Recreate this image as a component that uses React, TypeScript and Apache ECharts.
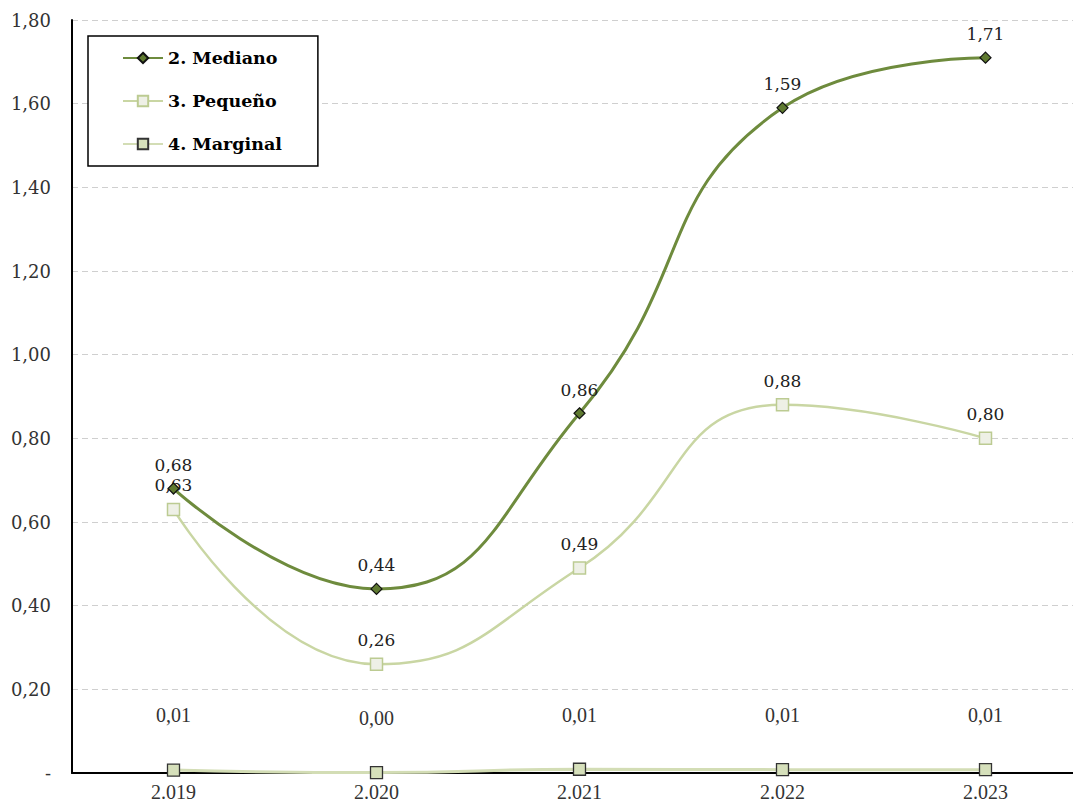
import React, { useEffect, useRef } from "react";
import * as echarts from "echarts";

const categories = ["2.019", "2.020", "2.021", "2.022", "2.023"];
const mediano = [0.68, 0.44, 0.86, 1.59, 1.71];
const pequeno = [0.63, 0.26, 0.49, 0.88, 0.8];
const marginal = [0.007, 0.001, 0.009, 0.008, 0.008];
const seriesNames = ["2. Mediano", "3. Pequeño", "4. Marginal"];

const fmt = (v: number) => v.toFixed(2).replace(".", ",");

export default function App() {
  const ref = useRef<HTMLDivElement>(null);
  useEffect(() => {
    if (!ref.current) return;
    const chart = echarts.init(ref.current, null, { renderer: "svg" });
    const serifWide = "DejaVu Serif";
    const serifNarrow = "Liberation Serif";
    chart.setOption({
      animation: false,
      backgroundColor: "#ffffff",
      grid: { left: 72, right: 0, top: 20, bottom: 31, containLabel: false },
      legend: {
        orient: "vertical",
        left: 88,
        top: 36,
        padding: [13, 36, 13, 34],
        itemGap: 25,
        itemWidth: 40,
        itemHeight: 13,
        borderColor: "#000",
        borderWidth: 1.5,
        backgroundColor: "#fff",
        textStyle: { fontFamily: serifWide, fontWeight: "bold", fontSize: 17.5, color: "#000" },
        data: seriesNames,
      },
      xAxis: {
        type: "category",
        data: categories,
        boundaryGap: true,
        axisLine: { show: true, lineStyle: { color: "#000", width: 2 } },
        axisTick: { show: false },
        axisLabel: { fontFamily: serifNarrow, fontSize: 20, color: "#333", margin: 9 },
      },
      yAxis: {
        type: "value",
        min: 0,
        max: 1.8,
        interval: 0.2,
        axisLine: { show: true, lineStyle: { color: "#000", width: 2 } },
        axisTick: { show: false },
        splitLine: { show: true, lineStyle: { color: "#cfcfcf", type: [6, 4], width: 1 } },
        axisLabel: {
          fontFamily: serifWide,
          fontSize: 18,
          color: "#333",
          margin: 21,
          formatter: (v: number) => (v === 0 ? "-" : fmt(v)),
        },
      },
      series: [
        {
          name: seriesNames[0],
          type: "line",
          data: mediano,
          smooth: 0.5,
          symbol: "diamond",
          symbolSize: 11,
          lineStyle: { color: "#6e8b3d", width: 3 },
          itemStyle: { color: "#5f7a30", borderColor: "#111", borderWidth: 1.2 },
          label: {
            show: true,
            position: "top",
            distance: 9,
            fontFamily: serifWide,
            fontSize: 17,
            color: "#222",
            formatter: (p: any) => fmt(p.value),
          },
          z: 3,
        },
        {
          name: seriesNames[1],
          type: "line",
          data: pequeno,
          smooth: 0.5,
          symbol: "rect",
          symbolSize: 12,
          lineStyle: { color: "#c9d6a3", width: 2.5 },
          itemStyle: { color: "#eef0e6", borderColor: "#bccb92", borderWidth: 1.5 },
          label: {
            show: true,
            position: "top",
            distance: 9,
            fontFamily: serifWide,
            fontSize: 17,
            color: "#222",
            formatter: (p: any) => fmt(p.value),
          },
          z: 2,
        },
        {
          name: seriesNames[2],
          type: "line",
          data: marginal,
          smooth: 0.5,
          symbol: "rect",
          symbolSize: 12,
          lineStyle: { color: "#d3ddb5", width: 3 },
          itemStyle: { color: "#d6e0bb", borderColor: "#333", borderWidth: 1.3 },
          label: {
            show: true,
            position: "top",
            distance: 38,
            fontFamily: serifNarrow,
            fontSize: 20,
            color: "#333",
            formatter: (p: any) => fmt(p.value),
          },
          z: 4,
        },
      ],
    });
    return () => chart.dispose();
  }, []);
  return (
    <div style={{ position: "absolute", left: 0, top: 0, width: 1073, height: 804, overflow: "hidden" }}>
      <div ref={ref} style={{ width: 1087, height: 804 }} />
    </div>
  );
}
